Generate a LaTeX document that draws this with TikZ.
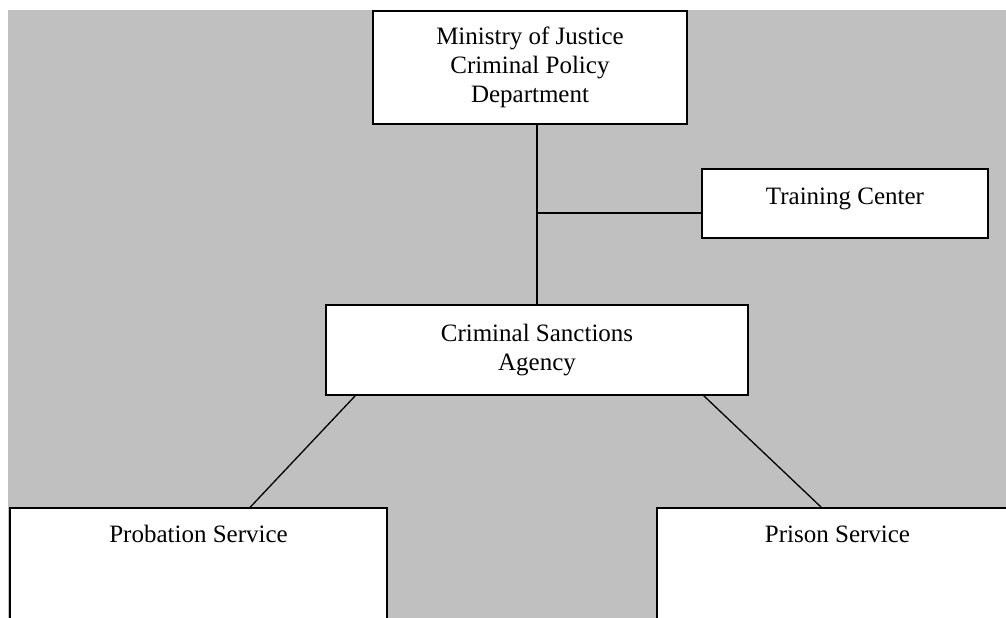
\documentclass[tikz,border=0pt]{standalone}
\usepackage{fontspec}
\setmainfont{Liberation Serif}
\usetikzlibrary{calc}
\definecolor{panelgray}{RGB}{192,192,192}
\tikzset{
  orgbox/.style={draw=black, fill=white, line width=1.6pt, inner sep=0pt,
    font=\fontsize{25pt}{29pt}\selectfont, align=center},
  link/.style={draw=black, line width=1.3pt}
}
\begin{document}
\begin{tikzpicture}[x=1pt,y=-1pt]
  \useasboundingbox (0,0) rectangle (1006,618);
  \clip (0,0) rectangle (1006,618);
  \fill[white] (0,0) rectangle (1006,618);
  % grey panel behind the chart
  \fill[panelgray] (8,10) rectangle (1010,622);

  % boxes
  \node[orgbox, minimum width=314pt, minimum height=113pt] (moj) at (530,67.5)
    {Ministry of Justice\\Criminal Policy\\Department};
  \node[orgbox, minimum width=286pt, text height=35pt, text depth=34pt] (train) at (845,203.5)
    {Training Center};
  \node[orgbox, minimum width=422pt, minimum height=90pt] (agency) at (537,350)
    {Criminal Sanctions\\Agency};
  \node[orgbox, minimum width=377pt, text height=34pt, text depth=98pt] (prob) at (198.5,574)
    {Probation Service};
  \node[orgbox, minimum width=361pt, text height=34pt, text depth=98pt] (prison) at (837.5,574)
    {Prison Service};

  % connectors
  \coordinate (junction) at (537,213);
  \draw[link] (agency.north |- moj.south) -- (agency.north);
  \draw[link] (junction) -- (junction -| train.west);
  \draw[link] ($(agency.south west)+(30,0)$) -- ($(prob.north west)+(241,0)$);
  \draw[link] ($(agency.south east)+(-45,0)$) -- ($(prison.north west)+(165,0)$);
\end{tikzpicture}
\end{document}
